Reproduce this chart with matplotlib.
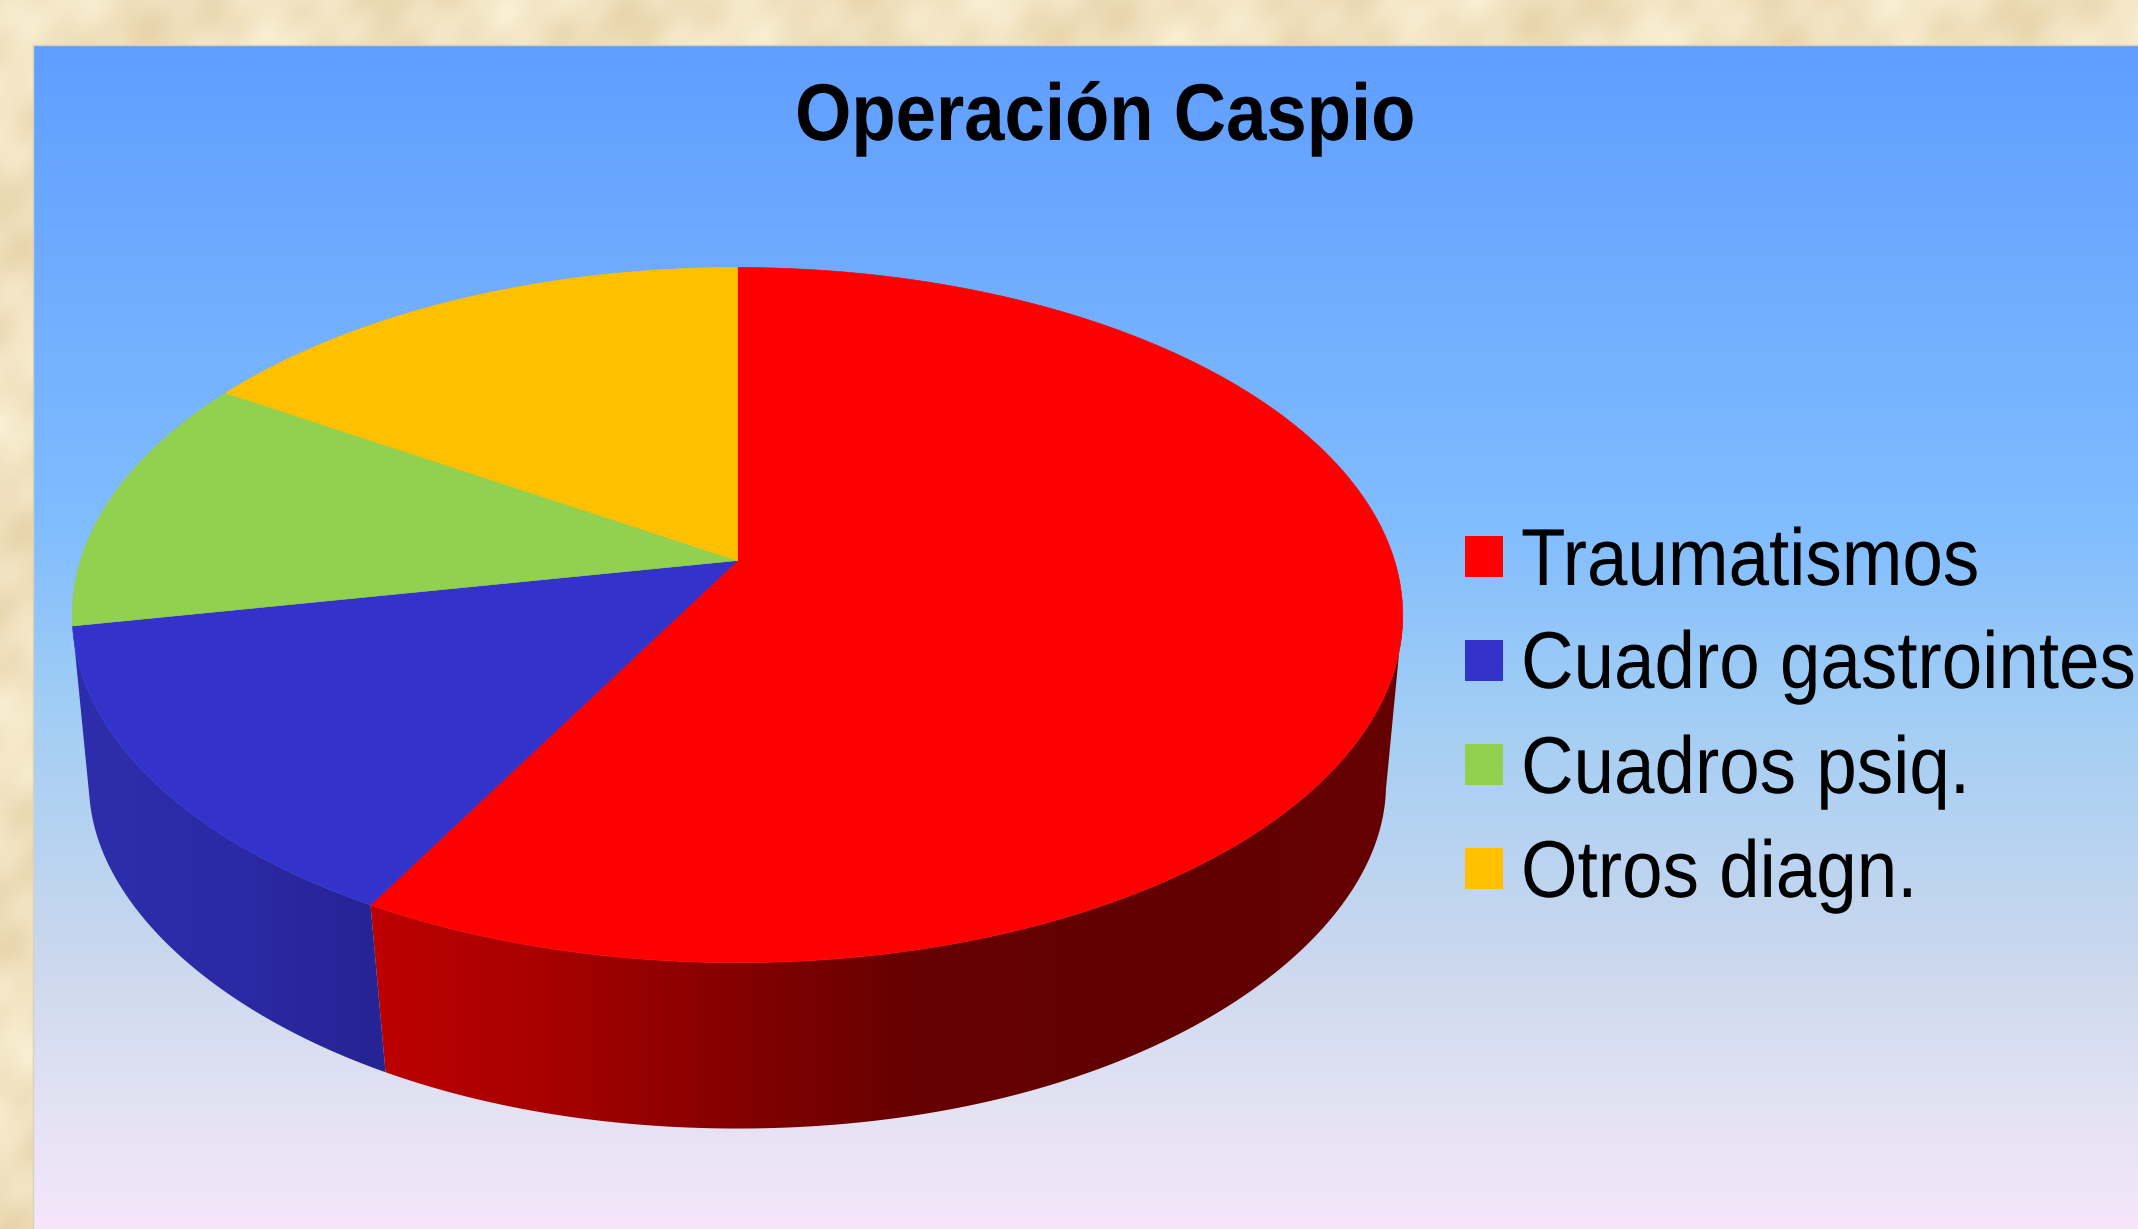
import numpy as np
import matplotlib
matplotlib.use('Agg')
import matplotlib.pyplot as plt
from matplotlib.patches import Rectangle, Polygon
from matplotlib.patheffects import AbstractPathEffect
from matplotlib.transforms import Affine2D

# chart data
categories = ['Traumatismos', 'Cuadro gastrointes', 'Cuadros psiq.', 'Otros diagn.']
values = [58, 14, 12, 16]
colors = ['#FF0000', '#3333CC', '#92D050', '#FFC000']
title = 'Operación Caspio'

W, H = 2138, 1229

# pie geometry in pixels
cx, cy = 737.5, 560.5
rx, ry = 657, 339
persp = 0.157
base_scale = 0.976
base_shift = 189
front = (99, 259)  # part of the wall that can be seen, degrees


class Stretch(AbstractPathEffect):
    # real text, only drawn narrower/taller like in the original slide
    def __init__(self, x0, y0, sx, sy):
        super().__init__()
        self.x0, self.y0 = x0, H - y0
        self.sx, self.sy = sx, sy

    def draw_path(self, renderer, gc, tpath, affine, rgbFace=None):
        a = affine + (Affine2D().translate(-self.x0, -self.y0).scale(self.sx, self.sy)
                      .translate(self.x0, self.y0))
        renderer.draw_path(gc, tpath, a, rgbFace)


def top_xy(ang):
    # ang in degrees, clockwise from the back of the pie
    t = np.radians(ang)
    u, v = np.sin(t), np.cos(t)
    w = 1 + persp * v
    return cx + rx * u / w, cy - ry * v / w


def base_xy(ang):
    x, y = top_xy(ang)
    t = np.radians(ang)
    # lower rim is a bit flatter towards the sides than a true ellipse
    inset = 35 * np.sin(t) ** 2 * np.cos(t) ** 2
    return cx + (x - cx) * base_scale - np.sign(x - cx) * inset, y * base_scale + base_shift


def lerp_img(stops):
    pos = [s[0] for s in stops]
    return np.stack([np.interp(np.arange(W), pos, [s[1][i] for s in stops]) for i in range(3)], axis=-1)[None, :, :] / 255


fig = plt.figure(figsize=(W / 100, H / 100), dpi=100)
ax = fig.add_axes([0, 0, 1, 1])
ax.set_xlim(0, W)
ax.set_ylim(H, 0)
ax.axis('off')

# parchment background, sum of sines so it looks a bit mottled
yy, xx = np.mgrid[0:H:2, 0:W:2]
tex = (np.sin(xx / 37 + yy / 53) + np.sin(xx / 13 - yy / 23 + 1) * 0.6 + np.sin(xx / 71 + yy / 11) * 0.5
       + np.sin(xx / 7.3 + yy / 9.1) * 0.25)
bg = np.stack([241 + 4 * tex, 226 + 6 * tex, 192 + 9 * tex], axis=-1) / 255
ax.imshow(np.clip(bg, 0, 1), extent=[0, W, H, 0], aspect='auto', zorder=0, interpolation='bilinear')

# panel gradient
ys = [45, 520, 700, 940, 1100, 1229]
grad_cols = [(95, 158, 255), (128, 188, 255), (160, 205, 245), (200, 215, 238), (226, 226, 243), (246, 230, 250)]
grad = np.stack([np.interp(np.arange(45, H), ys, [c[i] for c in grad_cols]) for i in range(3)], axis=-1)[:, None, :] / 255
ax.imshow(grad, extent=[33, W, H, 45], aspect='auto', zorder=1)
ax.plot([33, 33, W], [H, 45, 45], color='#D8D2BC', lw=1, zorder=1.5)

# shading of the side wall, left to right
side_stops = {
    '#FF0000': [(370, (190, 0, 0)), (540, (168, 0, 0)), (750, (130, 0, 0)), (900, (104, 0, 0)),
                (1150, (96, 0, 0)), (1403, (102, 0, 0))],
    '#3333CC': [(72, (46, 46, 172)), (250, (43, 41, 163)), (378, (38, 35, 148))],
}

edges = np.concatenate([[0], np.cumsum(values)]) / sum(values) * 360

# side walls first, only the front part shows
for i in range(len(values)):
    start, stop = max(edges[i], front[0]), min(edges[i + 1], front[1])
    if stop <= start:
        continue
    a = np.linspace(start, stop, 200)
    tx, ty = top_xy(a)
    bx, by = base_xy(a)
    pts = np.column_stack([np.r_[tx, bx[::-1]], np.r_[ty, by[::-1]]])
    poly = Polygon(pts, closed=True, facecolor='none', edgecolor='none', transform=ax.transData)
    ax.add_patch(poly)
    im = ax.imshow(lerp_img(side_stops[colors[i]]), extent=[0, W, H, 0], aspect='auto', zorder=2)
    im.set_clip_path(poly)

for i in range(len(values)):
    a = np.linspace(edges[i], edges[i + 1], 200)
    tx, ty = top_xy(a)
    ax.fill(np.r_[cx, tx], np.r_[cy, ty], color=colors[i], lw=0.5, zorder=3)

ax.set_xlim(0, W)
ax.set_ylim(H, 0)

# title
ax.text(795, 140, title, family='Liberation Sans', weight='bold', fontsize=58, color='black', ha='left',
        va='baseline', zorder=5, path_effects=[Stretch(795, 140, 0.9, 1)])

# legend
box_tops = [536, 640, 744, 848]
baselines = [585, 688, 793, 897]
for i, name in enumerate(categories):
    ax.add_patch(Rectangle((1465, box_tops[i]), 38, 41, facecolor=colors[i], edgecolor='none', zorder=5))
    ax.text(1521, baselines[i], name, family='Liberation Sans', fontsize=52.4, color='black', ha='left',
            va='baseline', zorder=5, path_effects=[Stretch(1521, baselines[i], 1, 1.11)])

fig.savefig('out.png', dpi=100)
